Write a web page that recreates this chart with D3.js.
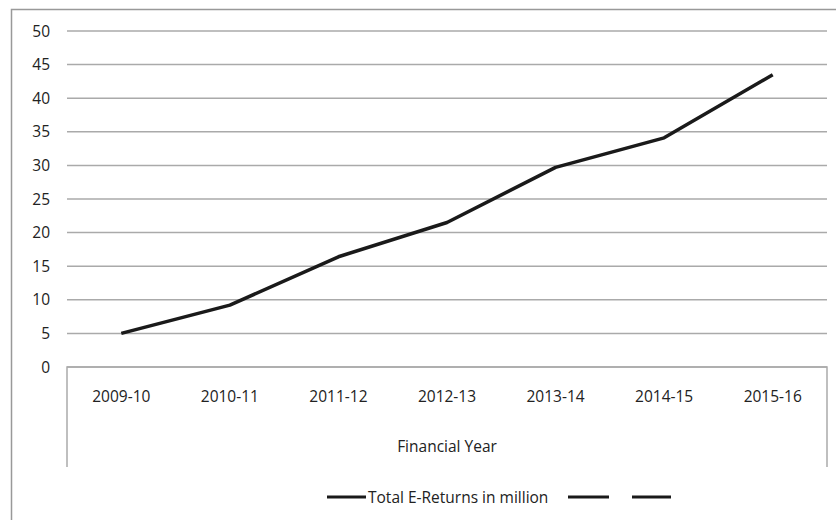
<!DOCTYPE html>
<html>
<head>
<meta charset="utf-8">
<script src="https://cdn.jsdelivr.net/npm/d3@7"></script>
<style>
  body { margin: 0; background: #fff; }
  text { font-family: "Open Sans", sans-serif; fill: #222; font-size: 15.5px; }
</style>
</head>
<body>
<svg width="836" height="520"></svg>
<script>
// Data
const years = ["2009-10", "2010-11", "2011-12", "2012-13", "2013-14", "2014-15", "2015-16"];
const returns = [5.0, 9.2, 16.4, 21.5, 29.7, 34.1, 43.5];
const yTicks = [0, 5, 10, 15, 20, 25, 30, 35, 40, 45, 50];
const seriesName = "Total E-Returns in million";
const axisTitle = "Financial Year";

const svg = d3.select("svg");

const plot = {left: 67, right: 827, top: 31, bottom: 367};

// outer frame (only left and top edges show)
svg.append("rect")
    .attr("x", 11.5).attr("y", 9.5)
    .attr("width", 900).attr("height", 600)
    .attr("fill", "none")
    .attr("stroke", "#999")
    .attr("stroke-width", 1.5);

const x = d3.scaleBand()
    .domain(years)
    .range([plot.left, plot.right]);

const y = d3.scaleLinear()
    .domain([0, 50])
    .range([plot.bottom, plot.top]);

// gridlines
svg.append("g")
    .selectAll("line")
    .data(yTicks)
    .join("line")
    .attr("x1", plot.left)
    .attr("x2", plot.right)
    .attr("y1", d => y(d))
    .attr("y2", d => y(d))
    .attr("stroke", "#aaa")
    .attr("stroke-width", 1.5);

// y labels
svg.append("g")
    .selectAll("text")
    .data(yTicks)
    .join("text")
    .attr("x", 50)
    .attr("y", d => y(d))
    .attr("dy", "0.36em")
    .attr("text-anchor", "end")
    .text(d => d);

// category axis box
const axisBottom = 467;
svg.append("path")
    .attr("d", `M${plot.left},${axisBottom}V${plot.bottom}H${plot.right}V${axisBottom}`)
    .attr("fill", "none")
    .attr("stroke", "#aaa")
    .attr("stroke-width", 1.5);

svg.append("g")
    .selectAll("text")
    .data(years)
    .join("text")
    .attr("x", d => x(d) + x.bandwidth() / 2)
    .attr("y", 396)
    .attr("dy", "0.36em")
    .attr("text-anchor", "middle")
    .text(d => d);

svg.append("text")
    .attr("x", (plot.left + plot.right) / 2)
    .attr("y", 446)
    .attr("dy", "0.36em")
    .attr("text-anchor", "middle")
    .text(axisTitle);

// series line
const line = d3.line()
    .x((d, i) => x(years[i]) + x.bandwidth() / 2)
    .y(d => y(d));

svg.append("path")
    .datum(returns)
    .attr("d", line)
    .attr("fill", "none")
    .attr("stroke", "#1a1a1a")
    .attr("stroke-width", 3.5)
    .attr("stroke-linejoin", "round");

// legend
const ly = 497;
svg.append("line")
    .attr("x1", 327).attr("x2", 366)
    .attr("y1", ly).attr("y2", ly)
    .attr("stroke", "#1a1a1a")
    .attr("stroke-width", 3);

svg.append("text")
    .attr("x", 368)
    .attr("y", ly)
    .attr("dy", "0.36em")
    .text(seriesName);

[[568, 609], [632, 671]].forEach(([a, b]) => {
    svg.append("line")
        .attr("x1", a).attr("x2", b)
        .attr("y1", ly).attr("y2", ly)
        .attr("stroke", "#1a1a1a")
        .attr("stroke-width", 3);
});
</script>
</body>
</html>
